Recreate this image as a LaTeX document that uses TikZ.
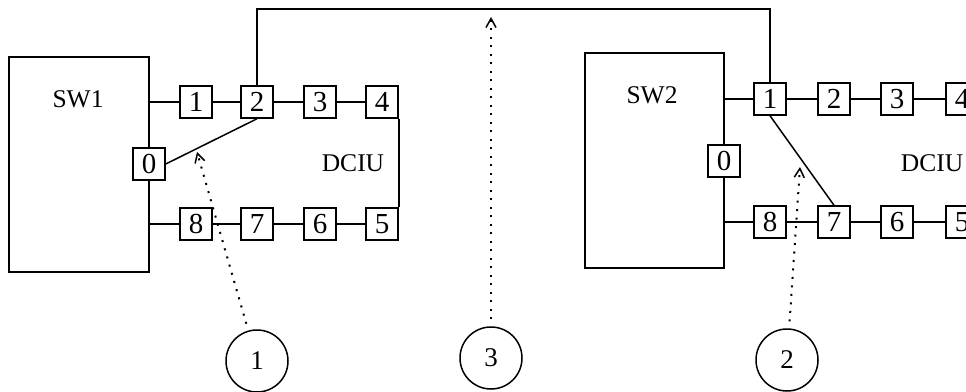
\documentclass[tikz,border=0pt]{standalone}
\usepackage{fontspec}
\setmainfont{Liberation Serif}
\usetikzlibrary{arrows.meta}
\begin{document}
\begin{tikzpicture}[x=1pt,y=-1pt,line width=1.5pt,
  port/.style={draw,line width=1.5pt,minimum size=32pt,inner sep=0pt,font=\fontsize{29}{29}\selectfont},
  swbox/.style={draw,line width=1.5pt,inner sep=0pt},
  lbl/.style={inner sep=0pt,font=\fontsize{25.5}{25.5}\selectfont},
  ring/.style={draw,circle,line width=1.5pt,minimum size=62pt,inner sep=0pt,font=\fontsize{27}{27}\selectfont},
  dotline/.style={line width=2pt,dash pattern=on 2pt off 6.5pt,-{Straight Barb[length=9pt,width=10pt,line width=1.5pt]}}
]
\useasboundingbox (0,0) rectangle (966,391);
% SW1 side
\node[swbox,minimum width=140pt,minimum height=215pt] (sw1) at (79,164.5) {};
\node[lbl] (sw1t) at (78,99) {SW1};
\node[port] (a1) at (196,102) {1};
\node[port] (a2) at (257,102) {2};
\node[port] (a3) at (320,102) {3};
\node[port] (a4) at (382,102) {4};
\node[port,fill=white] (a0) at (149,164) {0};
\node[port] (a8) at (196,224) {8};
\node[port] (a7) at (257,224) {7};
\node[port] (a6) at (320,224) {6};
\node[port] (a5) at (382,224) {5};
\node[lbl] (d1) at (353,163) {DCIU};
\draw (sw1.east |- a1) -- (a1.west);
\draw (a1) -- (a2) -- (a3) -- (a4);
\draw (sw1.east |- a8) -- (a8.west);
\draw (a8) -- (a7) -- (a6) -- (a5);
\draw (a4.south east) -- (a5.north east);
\draw (a0.east) -- (a2.south);
% SW2 side
\node[swbox,minimum width=139pt,minimum height=215pt] (sw2) at (654.5,160.5) {};
\node[lbl] (sw2t) at (652,95) {SW2};
\node[port] (b1) at (770,99) {1};
\node[port] (b2) at (834,99) {2};
\node[port] (b3) at (897,99) {3};
\node[port] (b4) at (962,99) {4};
\node[port,fill=white] (b0) at (724,161) {0};
\node[port] (b8) at (770,222) {8};
\node[port] (b7) at (834,222) {7};
\node[port] (b6) at (897,222) {6};
\node[port] (b5) at (962,222) {5};
\node[lbl] (d2) at (932,163) {DCIU};
\draw (sw2.east |- b1) -- (b1.west);
\draw (b1) -- (b2) -- (b3) -- (b4);
\draw (sw2.east |- b8) -- (b8.west);
\draw (b8) -- (b7) -- (b6) -- (b5);
\draw (b1.south) -- (b7.north);
% top link
\coordinate (top) at (0,9);
\draw (a2.north) |- (top -| b1.north) -- (b1.north);
% circles and dotted arrows
\node[ring] (c1) at (257,361) {1};
\node[ring] (c3) at (491,358) {3};
\node[ring] (c2) at (787,360) {2};
\coordinate (t1) at (197,152);
\coordinate (t3) at (491,17);
\coordinate (t2) at (800,167);
\draw[dotline,shorten <=7pt] (c1) -- (t1);
\draw[dotline,shorten <=7pt] (c3) -- (t3);
\draw[dotline,shorten <=7pt] (c2) -- (t2);
\end{tikzpicture}
\end{document}
